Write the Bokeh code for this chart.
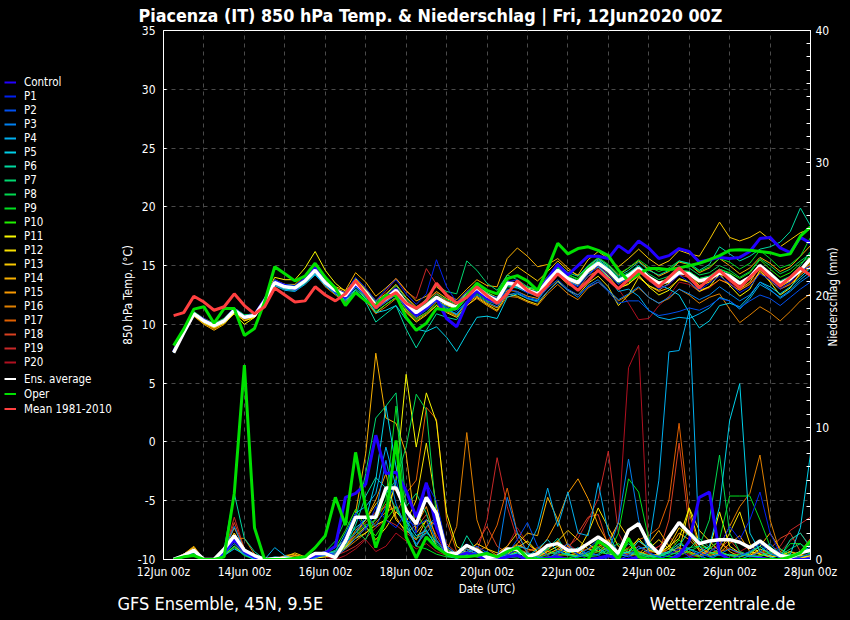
import math
from bokeh.plotting import figure
from bokeh.layouts import row
from bokeh.models import Range1d, LinearAxis, FixedTicker, Legend, LegendItem
from bokeh.embed import file_html
from bokeh.resources import INLINE

FONT = "DejaVu Sans Condensed"

# time axis: hours after 12Jun2020 00Z (6-hourly steps)
hours = list(range(6, 385, 6))

tick_hours = [0, 48, 96, 144, 192, 240, 288, 336, 384]
tick_labels = ["12Jun 00z", "14Jun 00z", "16Jun 00z", "18Jun 00z", "20Jun 00z",
               "22Jun 00z", "24Jun 00z", "26Jun 00z", "28Jun 00z"]
grid_hours = [24, 48, 72, 96, 120, 144, 168, 192, 216, 240, 264, 288, 312, 336, 360]
temp_ticks = [-10, -5, 0, 5, 10, 15, 20, 25, 30, 35]
temp_grid = [-5, 0, 5, 10, 15, 20, 25, 30]
precip_ticks = [0, 10, 20, 30, 40]
precip_minor = list(range(0, 41))

footer_texts = ["GFS Ensemble, 45N, 9.5E", "Wetterzentrale.de"]
footer_hours = [33.0, 331.8]
precip_title = "Niederschlag (mm)"
precip_title_at = [16.1]   # where the rotated precipitation title starts (mm)

names = ["Control", "P1", "P2", "P3", "P4", "P5", "P6", "P7", "P8", "P9", "P10",
         "P11", "P12", "P13", "P14", "P15", "P16", "P17", "P18", "P19", "P20"]
colors = ["#2200ff", "#0020f0", "#0050f0", "#0080f0", "#00b0f0", "#00d0e8", "#00d8a0",
          "#00d870", "#00d850", "#00e020", "#20f000", "#f8f800", "#f8e000", "#f8c800",
          "#f8b000", "#f89800", "#e08000", "#e06000", "#d84020", "#c82828", "#b01020"]

# ---------------- 850 hPa temperature (deg C) ----------------
control_t = [7.7, 9.3, 10.9, 10.4, 9.9, 10.3, 11.3, 10.6,
             10.8, 12.1, 13.6, 13.3, 13.0, 13.8, 14.8, 13.6,
             12.8, 12.3, 13.4, 12.6, 11.4, 12.3, 13.0, 11.6,
             10.8, 11.4, 12.2, 10.5, 9.8, 11.8, 12.9, 12.2,
             11.8, 13.6, 13.4, 12.8, 12.7, 13.9, 15.1, 14.2,
             15.0, 15.8, 15.8, 15.6, 16.7, 16.1, 17.1, 16.5,
             15.6, 15.85, 16.45, 16.2, 15.3, 15.5, 15.7, 15.6,
             15.7, 16.2, 17.3, 17.4, 16.5, 16.1, 17.4, 16.9]
p1_t = [7.8, 9.4, 11.0, 10.4, 10.0, 10.4, 11.3, 10.7,
        10.9, 12.2, 13.8, 13.4, 13.3, 14.0, 15.1, 13.7,
        13.0, 12.7, 14.0, 13.1, 12.0, 13.0, 13.8, 12.6,
        11.7, 12.6, 15.5, 13.2, 11.9, 12.8, 13.4, 12.5,
        12.3, 13.6, 13.8, 13.0, 12.5, 13.6, 14.7, 13.6,
        13.2, 14.1, 15.0, 14.2, 13.4, 14.0, 14.8, 13.8,
        13.0, 13.4, 14.2, 13.6, 12.9, 13.5, 14.1, 13.5,
        12.7, 13.2, 14.3, 13.8, 13.0, 13.6, 14.5, 15.0]
p2_t = [7.6, 9.2, 10.8, 10.2, 9.8, 10.2, 11.1, 10.5,
        10.7, 11.9, 13.4, 13.1, 13.0, 13.6, 14.4, 13.4,
        12.7, 12.2, 13.3, 12.4, 11.3, 11.9, 12.5, 11.4,
        10.6, 11.2, 12.0, 11.5, 11.1, 12.0, 12.7, 12.1,
        11.7, 13.0, 12.8, 12.3, 12.1, 13.1, 13.8, 13.0,
        12.5, 13.2, 13.6, 12.8, 11.8, 12.0, 12.0, 11.2,
        10.75, 10.9, 11.1, 11.4, 11.2, 11.6, 12.2, 12.0,
        11.4, 12.0, 12.5, 12.2, 11.6, 12.3, 13.0, 13.6]
p3_t = [7.7, 9.3, 10.9, 10.3, 9.9, 10.3, 11.2, 10.6,
        10.8, 12.0, 13.5, 13.2, 13.0, 13.6, 14.5, 13.5,
        12.8, 12.4, 13.5, 12.6, 11.5, 12.1, 12.8, 11.7,
        10.9, 11.4, 12.0, 11.3, 10.9, 11.9, 12.5, 11.9,
        11.5, 12.5, 12.7, 12.2, 11.9, 12.8, 13.6, 12.9,
        12.3, 13.3, 13.8, 12.9, 12.1, 12.6, 13.2, 12.3,
        11.8, 12.3, 13.0, 12.6, 12.1, 12.5, 13.2, 12.6,
        12.0, 12.5, 13.6, 13.0, 12.2, 12.8, 13.6, 14.2]
p4_t = [7.6, 9.3, 10.9, 10.3, 9.9, 10.4, 11.2, 10.6,
        10.8, 12.0, 13.3, 12.9, 12.8, 13.4, 14.2, 13.3,
        12.6, 12.1, 13.2, 12.4, 11.4, 12.0, 12.7, 11.5,
        10.7, 11.3, 12.1, 11.4, 10.8, 12.0, 12.8, 12.2,
        11.9, 13.3, 13.1, 12.7, 12.4, 13.5, 14.4, 13.7,
        13.3, 14.3, 14.9, 14.0, 12.8, 13.0, 12.4, 11.2,
        10.6, 10.4, 10.6, 10.5, 10.9, 11.4, 12.3, 12.0,
        11.3, 12.2, 13.4, 12.9, 12.3, 12.9, 13.8, 14.5]
p5_t = [7.6, 9.3, 10.9, 10.3, 9.9, 10.3, 11.2, 10.6,
        10.7, 11.9, 13.4, 13.0, 12.9, 13.5, 14.3, 13.3,
        12.6, 12.0, 13.0, 12.2, 11.0, 11.2, 11.6, 10.4,
        9.6, 9.4, 9.8, 8.9, 7.7, 9.2, 10.6, 10.7,
        10.5, 12.3, 12.6, 12.2, 12.0, 13.4, 14.5, 13.8,
        13.5, 14.7, 15.5, 14.8, 13.9, 14.3, 15.0, 14.1,
        13.4, 13.0, 12.5, 11.0, 9.7, 10.3, 11.6, 11.8,
        11.5, 12.4, 13.6, 13.2, 12.6, 13.2, 14.0, 14.8]
p6_t = [7.7, 9.4, 11.0, 10.4, 10.0, 10.4, 11.3, 10.7,
        10.9, 12.1, 13.7, 13.3, 13.2, 13.9, 14.8, 13.6,
        12.7, 11.8, 12.9, 11.9, 10.2, 10.9, 11.6, 9.6,
        8.0, 9.5, 10.9, 10.6, 10.4, 11.8, 12.8, 12.3,
        12.0, 13.4, 13.2, 12.9, 12.8, 14.0, 15.2, 14.4,
        14.1, 15.0, 15.6, 15.0, 14.1, 14.6, 15.3, 14.6,
        14.2, 14.6, 15.4, 15.2, 14.6, 15.1, 16.6, 16.0,
        15.4, 15.8, 16.4, 16.6, 17.0, 17.9, 19.9, 18.4]
p7_t = [7.8, 9.4, 11.0, 10.4, 10.0, 10.5, 11.4, 10.8,
        10.9, 12.2, 13.7, 13.4, 13.3, 13.9, 14.7, 13.7,
        13.0, 12.6, 13.7, 12.9, 11.9, 12.5, 13.3, 12.2,
        11.3, 12.2, 13.3, 12.8, 12.6, 15.4, 14.6, 13.5,
        12.9, 14.2, 13.8, 13.2, 12.9, 14.0, 14.8, 14.1,
        13.7, 14.6, 15.1, 14.4, 13.5, 13.9, 14.6, 13.8,
        13.3, 13.6, 14.6, 14.5, 13.9, 14.1, 14.7, 14.3,
        13.6, 14.1, 15.1, 14.4, 13.7, 14.1, 15.0, 16.2]
p8_t = [7.7, 9.3, 10.9, 10.3, 9.9, 10.3, 11.1, 10.5,
        10.7, 11.9, 13.4, 13.1, 13.1, 13.7, 14.6, 13.6,
        12.9, 12.5, 13.6, 12.8, 11.7, 12.3, 13.1, 12.0,
        11.2, 11.8, 12.6, 12.1, 11.7, 12.7, 13.3, 12.7,
        12.2, 13.6, 13.4, 13.0, 12.8, 13.9, 14.8, 14.0,
        13.6, 14.8, 15.4, 14.9, 14.0, 14.4, 15.0, 14.3,
        13.8, 14.1, 14.9, 14.8, 14.2, 14.4, 15.0, 14.6,
        14.0, 14.5, 15.6, 15.0, 14.3, 14.7, 15.4, 16.0]
p9_t = [7.8, 9.5, 11.1, 10.5, 10.1, 10.5, 11.4, 10.8,
        10.9, 12.1, 13.6, 13.2, 13.0, 13.6, 14.5, 13.5,
        12.8, 12.2, 13.2, 12.3, 11.1, 11.7, 12.3, 11.2,
        10.4, 11.0, 11.7, 11.2, 10.9, 11.9, 12.6, 12.0,
        11.7, 13.2, 13.1, 12.8, 12.6, 13.8, 14.9, 14.2,
        13.9, 15.0, 15.7, 15.1, 14.3, 14.8, 15.5, 14.9,
        14.5, 14.8, 15.4, 15.1, 14.5, 14.9, 15.6, 15.3,
        14.7, 15.2, 16.3, 15.6, 14.8, 15.1, 15.8, 17.4]
p10_t = [7.7, 9.4, 11.0, 10.4, 10.0, 10.4, 11.2, 10.6,
         10.8, 12.0, 13.5, 13.1, 12.9, 13.5, 14.4, 13.4,
         12.7, 12.3, 13.5, 12.7, 11.6, 12.2, 12.9, 11.7,
         10.9, 11.5, 12.2, 11.7, 11.3, 12.3, 12.9, 12.3,
         11.9, 13.4, 13.5, 13.2, 13.0, 14.1, 15.0, 14.3,
         13.8, 14.9, 15.4, 14.7, 13.8, 14.3, 14.9, 14.1,
         13.6, 13.9, 14.6, 14.5, 13.9, 14.1, 14.7, 14.4,
         13.9, 14.4, 15.5, 14.7, 14.0, 14.4, 15.2, 15.8]
p11_t = [7.8, 9.4, 10.9, 10.2, 9.8, 10.1, 10.9, 10.0,
         10.6, 12.2, 14.0, 13.8, 13.8, 14.8, 16.2, 14.6,
         13.5, 12.8, 13.9, 12.9, 11.5, 12.0, 12.6, 11.5,
         10.8, 11.3, 12.0, 11.6, 11.3, 12.4, 13.2, 12.7,
         12.3, 13.7, 13.5, 13.1, 12.9, 14.0, 14.9, 14.1,
         13.6, 14.5, 14.9, 14.1, 13.1, 13.4, 14.2, 13.2,
         12.5, 12.9, 13.9, 13.6, 12.8, 13.2, 14.3, 13.3,
         12.4, 13.0, 14.6, 13.6, 12.5, 13.1, 14.4, 15.1]
p12_t = [7.6, 9.2, 10.8, 10.1, 9.7, 10.1, 11.0, 10.3,
         10.6, 11.9, 13.6, 13.2, 13.1, 13.8, 14.9, 13.8,
         13.1, 12.4, 13.3, 12.2, 11.0, 11.7, 12.3, 11.0,
         10.2, 10.8, 11.6, 11.0, 10.6, 11.6, 12.3, 11.7,
         11.2, 12.6, 12.4, 12.0, 11.7, 12.8, 13.7, 12.9,
         12.5, 13.5, 14.1, 13.2, 11.6, 12.5, 14.0, 13.3,
         12.9, 13.5, 14.7, 14.3, 13.3, 13.6, 14.5, 13.8,
         13.0, 13.6, 14.9, 14.0, 13.2, 13.7, 14.7, 15.3]
p13_t = [7.7, 9.3, 10.8, 10.2, 9.8, 10.2, 11.1, 10.5,
         10.7, 12.0, 13.7, 13.3, 13.2, 13.9, 14.9, 13.8,
         13.1, 12.7, 13.8, 13.0, 12.0, 12.6, 13.4, 12.3,
         11.5, 12.0, 12.8, 12.2, 11.8, 12.8, 13.5, 12.9,
         12.6, 14.2, 14.9, 14.3, 13.7, 14.5, 15.4, 14.6,
         14.2, 15.5, 16.2, 15.6, 14.9, 15.6, 16.4, 15.6,
         15.0, 15.4, 16.3, 16.0, 15.8, 17.2, 18.7, 17.4,
         17.1, 17.4, 17.9, 17.2, 16.6, 17.2, 17.8, 18.1]
p14_t = [7.6, 9.2, 10.7, 10.0, 9.5, 10.0, 11.0, 10.3,
         10.6, 11.9, 13.6, 13.4, 13.4, 14.2, 15.2, 14.0,
         13.2, 12.9, 14.4, 13.6, 12.4, 13.1, 13.9, 12.9,
         12.0, 12.4, 13.2, 12.5, 12.1, 13.0, 13.8, 13.3,
         13.2, 15.6, 16.5, 15.8, 14.9, 15.1, 15.6, 14.8,
         14.1, 14.9, 15.6, 15.0, 14.2, 14.8, 15.4, 14.7,
         14.1, 14.5, 15.3, 15.1, 14.4, 14.8, 15.6, 15.0,
         14.3, 14.8, 15.7, 15.2, 14.5, 14.9, 15.8, 16.7]
p15_t = [7.7, 9.3, 10.9, 10.2, 9.7, 10.2, 11.1, 10.5,
         10.7, 12.0, 13.5, 13.2, 13.1, 13.8, 14.7, 13.6,
         12.9, 12.3, 13.3, 12.5, 11.3, 11.9, 12.6, 11.3,
         10.5, 11.0, 11.9, 11.2, 10.8, 11.8, 12.4, 11.8,
         11.4, 12.9, 12.8, 12.4, 12.2, 13.3, 14.2, 13.4,
         13.0, 14.1, 14.6, 13.9, 13.0, 13.5, 14.1, 13.3,
         12.8, 13.1, 13.8, 13.6, 12.9, 13.2, 13.8, 13.4,
         12.9, 13.4, 14.4, 13.7, 13.0, 13.4, 14.2, 14.9]
p16_t = [7.6, 9.2, 10.7, 10.1, 9.6, 10.1, 11.0, 10.4,
         10.6, 11.8, 13.3, 13.0, 12.9, 13.5, 14.3, 13.2,
         12.5, 11.9, 12.9, 12.0, 10.9, 11.5, 12.2, 11.1,
         10.3, 10.9, 11.6, 11.1, 10.7, 11.6, 12.2, 11.6,
         11.1, 12.4, 12.3, 11.9, 11.6, 12.6, 13.4, 12.6,
         12.1, 13.1, 13.6, 12.9, 12.0, 12.5, 13.1, 12.3,
         11.8, 12.2, 13.0, 12.5, 11.8, 12.3, 12.6, 11.3,
         10.15, 10.8, 11.5, 11.0, 10.3, 11.1, 12.0, 12.6]
p17_t = [7.7, 9.3, 10.8, 10.2, 9.7, 10.2, 11.1, 10.5,
         10.7, 12.0, 13.7, 13.4, 13.3, 14.0, 14.9, 13.8,
         13.1, 12.6, 13.7, 12.8, 11.7, 12.3, 13.1, 12.0,
         11.2, 11.8, 12.6, 12.0, 11.6, 12.6, 13.2, 12.6,
         12.1, 13.6, 13.3, 12.9, 12.6, 13.7, 14.6, 13.8,
         13.4, 14.6, 15.2, 14.5, 13.6, 14.1, 14.7, 13.9,
         13.3, 13.6, 14.4, 14.2, 13.5, 13.8, 14.4, 14.0,
         13.4, 13.9, 14.9, 14.2, 13.4, 13.8, 14.5, 15.2]
p18_t = [7.7, 9.4, 11.0, 10.4, 10.0, 10.4, 11.3, 10.7,
         10.9, 12.1, 13.6, 13.3, 13.2, 13.8, 14.7, 13.7,
         13.0, 12.5, 13.6, 12.8, 11.8, 12.4, 13.1, 12.0,
         11.2, 11.7, 12.4, 11.9, 11.5, 12.5, 13.1, 12.5,
         12.1, 13.5, 13.3, 12.9, 12.6, 13.7, 14.6, 13.9,
         13.6, 14.7, 15.3, 14.7, 13.8, 14.3, 14.9, 14.1,
         13.6, 13.9, 14.6, 14.4, 13.8, 14.0, 14.6, 14.2,
         13.6, 14.1, 15.1, 14.4, 13.6, 14.0, 14.7, 15.4]
p19_t = [7.8, 9.4, 11.0, 10.5, 10.1, 10.5, 11.3, 10.7,
         10.9, 12.2, 13.8, 13.4, 13.3, 13.9, 14.8, 13.8,
         13.1, 12.7, 13.8, 13.0, 12.0, 12.8, 13.9, 12.8,
         12.2, 14.75, 13.4, 12.3, 11.8, 12.7, 13.3, 12.6,
         12.1, 13.5, 13.2, 12.8, 12.5, 13.6, 14.5, 13.7,
         13.3, 14.4, 15.0, 14.3, 13.4, 13.9, 14.5, 13.7,
         13.1, 13.4, 14.2, 14.0, 13.3, 13.6, 14.3, 13.9,
         13.3, 13.8, 14.8, 14.1, 13.3, 13.7, 14.4, 15.0]
p20_t = [7.7, 9.3, 10.9, 10.3, 9.9, 10.3, 11.2, 10.6,
         10.8, 12.0, 13.4, 13.0, 12.9, 13.5, 14.4, 13.4,
         12.7, 12.2, 13.3, 12.6, 11.7, 12.5, 13.3, 12.2,
         11.4, 12.0, 12.7, 12.0, 11.6, 12.4, 13.0, 12.4,
         12.0, 13.4, 13.2, 12.8, 12.5, 13.6, 14.4, 13.7,
         13.3, 14.3, 14.8, 14.1, 13.0, 11.8, 10.4, 10.5,
         11.6, 12.4, 13.6, 13.4, 12.8, 13.1, 13.8, 13.5,
         12.9, 13.5, 14.5, 13.9, 13.1, 13.5, 14.3, 14.9]
avg_t = [7.6, 9.3, 10.9, 10.3, 9.9, 10.3, 11.2, 10.6,
         10.75, 12.0, 13.55, 13.2, 13.1, 13.7, 14.6, 13.55,
         12.9, 12.45, 13.55, 12.7, 11.6, 12.2, 12.9, 11.8,
         11.0, 11.6, 12.3, 11.8, 11.45, 12.45, 13.1, 12.45,
         12.0, 13.5, 13.4, 12.9, 12.6, 13.7, 14.6, 13.9,
         13.55, 14.6, 15.2, 14.6, 13.7, 14.15, 14.75, 14.0,
         13.5, 13.7, 14.4, 14.3, 13.7, 13.9, 14.4, 14.1,
         13.5, 14.0, 15.0, 14.3, 13.5, 13.9, 14.6, 15.6]
oper_t = [8.2, 9.6, 11.3, 11.5, 10.1, 11.35, 11.35, 9.05,
          9.65, 11.9, 14.9, 14.3, 13.7, 14.1, 15.2, 14.0,
          13.1, 11.6, 12.7, 12.0, 11.6, 12.45, 12.45, 10.6,
          9.5, 10.1, 11.35, 11.2, 11.35, 12.45, 13.5, 12.9,
          12.6, 13.9, 14.15, 13.7, 12.9, 14.75, 16.9, 16.0,
          16.45, 16.6, 16.3, 15.85, 14.6, 13.7, 14.3, 14.75,
          14.75, 14.65, 14.8, 15.0, 15.2, 15.5, 15.85, 16.3,
          16.35, 16.3, 16.2, 16.1, 15.85, 16.0, 17.5, 18.3]
mean_t = [10.75, 11.0, 12.4, 11.9, 11.2, 11.5, 12.6, 11.6,
          10.9, 11.5, 13.1, 12.5, 11.9, 12.0, 13.2, 12.5,
          12.0, 12.6, 13.7, 12.6, 11.4, 12.2, 12.7, 11.8,
          11.35, 12.0, 13.5, 12.5, 11.8, 12.3, 13.2, 12.45,
          11.8, 12.6, 13.7, 12.9, 12.45, 13.3, 14.3, 13.6,
          12.9, 13.7, 14.6, 13.8, 13.05, 13.8, 14.6, 13.9,
          13.2, 14.0, 14.8, 14.0, 13.1, 13.9, 14.6, 13.8,
          13.1, 14.0, 14.8, 14.0, 13.3, 14.0, 14.8, 14.15]

# ---------------- precipitation (mm / 6h) ----------------
control_p = [0, 0.3, 0.7, 0, 0, 0.6, 1.5, 0.6,
             0.2, 0, 0, 0.1, 0, 0, 0.3, 0.5,
             1.0, 4.7, 5.0, 5.7, 9.4, 6.5, 6.6, 5.2,
             3.2, 5.8, 2.4, 0.45, 0.2, 0.5, 0.3, 0,
             0, 0.2, 0.3, 0, 0, 0.1, 0.2, 0,
             0, 0, 0.1, 0.3, 0, 0, 0.2, 0,
             0, 0, 0.3, 1.4, 4.7, 5.1, 0.45, 0,
             0, 0, 0.1, 0, 0, 0, 0, 0]
p1_p = [0, 0.3, 0.8, 0, 0, 0.5, 1.6, 0.5,
        0.1, 0, 0, 0, 0, 0.1, 0.4, 0.6,
        0.3, 1.8, 3.5, 2.2, 4.0, 3.0, 2.4, 3.6,
        2.0, 5.8, 4.4, 1.0, 0.3, 1.2, 0.4, 0.1,
        0, 0.3, 0.8, 0.3, 0, 0, 0.4, 0.9,
        0.4, 0, 0, 0.2, 0.5, 0.3, 0, 0,
        0, 0.4, 0.8, 0.2, 0, 0.6, 1.0, 2.5,
        1.5, 3.0, 5.1, 2.0, 0.5, 0, 0, 0.2]
p2_p = [0, 0.2, 0.6, 0, 0, 0.4, 1.2, 0.4,
        0.1, 0, 0, 0, 0.1, 0.2, 0.2, 0.3,
        0.5, 1.2, 2.0, 3.3, 2.5, 4.0, 6.0, 3.0,
        2.5, 3.0, 1.5, 0.4, 0.2, 0.6, 1.0, 0.5,
        0.2, 0.4, 1.5, 2.8, 1.0, 0.3, 0, 0,
        0.2, 0.6, 0.3, 0, 0, 0.3, 1.0, 0.5,
        0.2, 0, 0, 0.2, 0.5, 0.2, 0, 0,
        0.3, 0.6, 1.2, 0.5, 0.1, 0, 0.2, 0.4]
p3_p = [0, 0.3, 0.7, 0, 0, 0.7, 2.5, 0.7,
        0.2, 0, 0, 0.2, 0, 0, 0.1, 0.4,
        0.2, 0.8, 1.6, 2.4, 3.5, 7.5, 4.2, 2.4,
        1.2, 2.0, 3.0, 0.6, 0.2, 0.8, 0.4, 0.6,
        0, 4.7, 2.0, 0.5, 0.2, 0, 0.6, 1.2,
        0.3, 0.8, 1.5, 0.6, 2.8, 7.6, 3.0, 0.5,
        0.2, 0, 0.5, 0.8, 0.3, 0, 0.4, 0.8,
        0.5, 0.2, 0.6, 1.2, 0.4, 0, 0, 0]
p4_p = [0, 0.3, 0.6, 0, 0, 0.3, 0.8, 0.4,
        0, 0, 0.9, 0.3, 0, 0.1, 0.3, 0.4,
        0.6, 2.0, 3.5, 4.0, 5.0, 8.5, 5.5, 3.0,
        1.0, 2.5, 3.2, 1.0, 0.4, 0.3, 0.6, 0.2,
        0, 0.5, 1.0, 0.8, 2.4, 5.4, 2.5, 5.1,
        2.0, 1.8, 5.8, 2.0, 0.4, 0.2, 0.8, 1.0,
        6.0, 15.7, 15.8, 18.8, 1.0, 0.2, 0.4, 0,
        0, 0.3, 0.2, 0, 0, 0, 0.4, 1.0]
p5_p = [0, 0.3, 0.7, 0, 0, 0.4, 1.4, 0.6,
        0.3, 0, 0.2, 0.1, 0, 0, 0.2, 0.5,
        0.4, 1.5, 2.4, 3.0, 6.0, 11.6, 7.0, 3.0,
        1.8, 2.2, 1.0, 0.3, 0.1, 0.5, 0.8, 0.3,
        0.1, 0.3, 0.5, 0.2, 0.8, 1.5, 0.6, 0.4,
        0.9, 0.3, 0.4, 1.0, 0.6, 0.5, 1.4, 0.9,
        0.4, 0.6, 1.2, 0.8, 0.5, 1.0, 4.0, 10.5,
        13.3, 2.0, 0.6, 0.2, 0, 0.4, 2.4, 8.0]
p6_p = [0, 0.2, 0.6, 0, 0, 0.8, 5.0, 1.6,
        0.6, 0, 0, 0.2, 0.1, 0, 0.2, 0.3,
        0.3, 1.0, 2.6, 4.8, 6.2, 5.4, 3.8, 2.5,
        1.6, 2.0, 1.4, 0.4, 0.2, 1.8, 0.6, 0.2,
        0.1, 0.3, 0.8, 0.4, 0.2, 0.8, 1.6, 0.4,
        0.2, 0.6, 0.9, 0.3, 0.4, 1.2, 0.5, 0.3,
        0.2, 0.5, 1.0, 2.2, 1.4, 0.6, 0.3, 0.4,
        0.2, 0.5, 1.0, 0.4, 0.2, 1.5, 2.0, 0.9]
p7_p = [0, 0.2, 0.5, 0, 0, 0.5, 1.8, 0.4,
        0.1, 0, 0, 0, 0, 0.2, 0.3, 0.4,
        0.7, 1.6, 3.0, 6.5, 10.7, 11.6, 12.6, 4.0,
        5.0, 3.5, 1.2, 0.3, 0.1, 0.3, 0.6, 0.2,
        0.3, 0.2, 0.5, 0.2, 0.1, 0.4, 0.6, 0.3,
        0.2, 0.4, 0.8, 0.5, 0.3, 0.6, 0.4, 0.2,
        0.3, 0.5, 0.4, 0.8, 1.6, 0.9, 0.5, 0.3,
        0.2, 0.6, 1.0, 0.4, 0.3, 0.8, 1.2, 0.6]
p8_p = [0, 0.2, 0.6, 0, 0, 0.4, 1.0, 0.3,
        0.1, 0, 0, 0.1, 0, 0, 0.2, 0.6,
        1.4, 3.0, 2.2, 1.5, 3.2, 5.0, 6.0, 8.5,
        12.5, 11.3, 3.2, 0.8, 0.3, 0.4, 0.2, 0.1,
        0, 0.1, 0.3, 0.5, 0.2, 0.1, 0.5, 0.8,
        0.4, 0.2, 0.3, 0.8, 1.2, 0.5, 0.3, 0.2,
        0.1, 0.3, 0.6, 0.9, 1.0, 3.0, 7.9, 2.0,
        0.6, 0.3, 0.2, 0.5, 0.8, 0.4, 0.2, 0.5]
p9_p = [0, 0.2, 0.5, 0, 0, 0.3, 0.9, 0.3,
        0, 0, 0, 0, 0.1, 0.2, 0.4, 0.3,
        0.6, 1.4, 2.0, 2.6, 3.0, 4.5, 11.6, 2.6,
        1.0, 0.8, 0.4, 0.2, 0.1, 0.2, 0.4, 0.3,
        0.1, 0.2, 0.1, 0.3, 0.5, 0.8, 0.2, 0.1,
        0.3, 0.5, 0.6, 0.4, 2.0, 6.1, 5.1, 1.5,
        0.4, 0.2, 0.3, 0.6, 1.0, 0.8, 1.5, 4.8,
        4.8, 4.8, 3.0, 1.0, 0.3, 1.2, 1.2, 0.4]
p10_p = [0, 0.2, 0.4, 0, 0, 0.4, 1.2, 0.5,
         0.1, 0, 0, 0, 0, 0.1, 0.2, 0.5,
         0.9, 2.2, 3.8, 2.4, 1.8, 3.0, 4.0, 2.4,
         3.6, 2.2, 1.0, 0.3, 0.2, 0.6, 0.3, 0.1,
         0, 0.2, 0.6, 0.3, 0.1, 0.2, 0.3, 0.4,
         0.2, 0.3, 1.0, 0.6, 0.4, 0.8, 0.5, 0.3,
         0.2, 0.6, 1.5, 0.5, 0.2, 0.4, 0.6, 0.3,
         0.4, 0.2, 0.3, 0.6, 0.5, 0.3, 0.6, 1.4]
p11_p = [0, 0.3, 0.7, 0, 0, 0.3, 1.0, 0.4,
         0.1, 0, 0, 0.2, 0.1, 0, 0.1, 0.2,
         0.4, 0.9, 1.6, 2.0, 2.6, 3.0, 6.0, 14.0,
         8.5, 12.6, 10.4, 3.5, 1.0, 0.5, 0.3, 0.2,
         0.1, 0.3, 0.6, 0.4, 0.2, 0.6, 1.0, 0.4,
         0.3, 1.2, 0.6, 0.4, 0.3, 0.6, 1.6, 0.7,
         0.5, 1.0, 1.6, 3.9, 1.2, 0.8, 3.6, 1.0,
         0.5, 0.3, 0.8, 0.5, 0.2, 0.4, 0.3, 0.2]
p12_p = [0, 0.3, 0.8, 0, 0, 0.6, 2.0, 0.6,
         0.2, 0, 0, 0, 0, 0, 0.2, 0.4,
         0.5, 1.0, 1.8, 2.5, 1.5, 2.4, 3.6, 2.8,
         4.5, 8.8, 4.0, 1.0, 0.4, 0.3, 0.2, 0,
         0.1, 0.4, 0.9, 1.4, 0.6, 0.4, 0.8, 0.5,
         0.6, 2.0, 3.9, 2.4, 1.0, 0.5, 0.3, 0.8,
         1.5, 0.8, 0.6, 3.9, 2.2, 1.4, 0.6, 2.0,
         3.6, 1.2, 0.4, 0.2, 0.3, 0.6, 0.2, 0.1]
p13_p = [0, 0.4, 0.9, 0, 0, 0.5, 1.4, 0.6,
         0.2, 0, 0, 0.2, 0.5, 0.2, 0.1, 0.3,
         0.4, 1.2, 2.0, 3.0, 4.2, 5.0, 3.0, 2.2,
         1.5, 3.0, 2.6, 0.8, 0.4, 0.6, 1.2, 0.8,
         0.5, 1.0, 2.0, 1.2, 0.6, 0.8, 1.4, 2.2,
         1.5, 0.8, 0.6, 1.2, 2.8, 1.6, 0.6, 0.3,
         0.4, 1.0, 2.4, 1.8, 0.8, 0.5, 0.6, 0.3,
         0.2, 0.6, 0.4, 0.3, 0.6, 0.2, 0.1, 0.3]
p14_p = [0, 0.4, 1.0, 0, 0, 0.7, 2.4, 0.8,
         0.3, 0, 0, 0.1, 0.3, 0.2, 0.4, 0.6,
         0.9, 1.5, 3.5, 8.0, 15.6, 10.7, 10.3, 8.0,
         2.0, 3.0, 1.0, 0.3, 0.2, 0.8, 0.4, 0.2,
         0.3, 0.6, 1.2, 2.0, 1.8, 4.7, 3.0, 1.0,
         0.5, 0.4, 0.9, 1.5, 0.6, 0.3, 0.4, 1.2,
         2.2, 1.0, 0.4, 0.6, 0.3, 0.8, 1.4, 0.6,
         0.2, 0.4, 1.0, 2.0, 0.8, 0.2, 0.3, 0.1]
p15_p = [0, 0.4, 0.9, 0, 0, 0.6, 1.8, 0.6,
         0.2, 0, 0, 0.3, 0.4, 0.1, 0.3, 0.5,
         0.6, 1.0, 2.2, 3.0, 4.5, 6.5, 3.2, 2.0,
         2.6, 4.0, 1.5, 0.5, 0.3, 0.6, 0.9, 0.3,
         0.1, 0.6, 1.1, 0.8, 0.6, 1.6, 3.0, 5.0,
         6.1, 4.6, 2.6, 1.2, 0.6, 0.5, 1.4, 0.8,
         0.4, 0.8, 2.0, 1.5, 0.7, 0.3, 0.5, 1.2,
         1.8, 0.6, 0.4, 0.2, 0.3, 0.6, 0.4, 0.2]
p16_p = [0, 0.4, 0.8, 0, 0, 0.5, 1.6, 1.6,
         0.4, 0, 0, 0.2, 0.3, 0.1, 0.2, 0.4,
         0.3, 0.8, 1.4, 2.0, 2.8, 3.6, 4.0, 2.6,
         1.0, 2.2, 1.0, 0.6, 2.5, 9.6, 3.0, 0.8,
         0.3, 0.5, 0.8, 0.5, 0.3, 0.7, 1.4, 0.6,
         0.4, 0.3, 0.6, 0.9, 0.4, 0.3, 0.5, 0.4,
         0.3, 0.6, 0.9, 0.5, 0.3, 0.6, 1.0, 2.5,
         4.0, 5.0, 7.9, 3.0, 0.5, 0.2, 0.1, 0.3]
p17_p = [0, 0.4, 0.8, 0, 0, 0.6, 2.0, 0.7,
         0.2, 0, 0, 0.1, 0.2, 0.1, 0.3, 0.3,
         0.4, 0.9, 1.6, 2.4, 3.0, 4.2, 3.5, 5.0,
         6.0, 11.5, 10.6, 3.0, 0.6, 0.4, 0.6, 1.0,
         2.6, 5.4, 2.0, 0.5, 0.3, 0.6, 0.4, 0.3,
         0.5, 0.8, 1.2, 0.6, 0.4, 0.9, 1.5, 1.8,
         2.4, 4.5, 10.3, 3.5, 1.0, 0.5, 0.6, 0.8,
         0.5, 0.3, 0.6, 0.4, 0.2, 0.3, 0.2, 0.4]
p18_p = [0, 0.4, 0.9, 0, 0, 0.5, 2.8, 0.8,
         0.3, 0, 0, 0, 0.1, 0.2, 0.4, 0.5,
         0.4, 1.0, 2.0, 2.8, 3.6, 4.0, 5.5, 4.0,
         2.4, 3.4, 1.8, 0.5, 0.3, 0.4, 1.2, 2.5,
         1.0, 0.5, 0.3, 0.6, 0.9, 0.6, 0.4, 0.8,
         2.0, 3.2, 3.4, 1.0, 0.6, 0.4, 1.0, 0.6,
         0.5, 3.0, 8.8, 2.5, 0.6, 0.4, 0.8, 1.5,
         0.6, 0.3, 0.5, 0.8, 1.6, 2.0, 0.6, 1.6]
p19_p = [0, 0.3, 0.7, 0, 0, 0.4, 3.2, 0.8,
         0.2, 0, 0, 0, 0, 0.1, 0.2, 0.3,
         0.3, 0.6, 1.0, 1.6, 2.4, 3.0, 2.6, 2.0,
         1.5, 2.4, 3.0, 1.2, 0.5, 0.3, 0.6, 3.0,
         7.7, 4.0, 1.5, 0.5, 0.2, 0.4, 0.6, 1.0,
         1.6, 3.0, 4.6, 8.2, 2.0, 0.5, 0.3, 0.6,
         1.0, 1.8, 0.8, 0.4, 0.3, 0.6, 1.2, 0.8,
         0.4, 0.3, 0.2, 0.6, 1.0, 2.2, 2.7, 3.2]
p20_p = [0, 0.2, 0.5, 0, 0, 0.3, 1.0, 0.4,
         0.1, 0, 0, 0, 0, 0, 0.1, 0.2,
         0, 0.3, 0.8, 1.5, 0.6, 1.0, 2.0, 1.4,
         0.8, 1.2, 0.6, 0.3, 0.2, 0.4, 0.3, 0.2,
         0.4, 1.0, 2.4, 1.2, 0.5, 0.3, 0.8, 1.2,
         0.6, 0.8, 1.0, 1.5, 2.7, 14.5, 16.2, 0.4,
         1.0, 0.4, 0.6, 0.3, 0.2, 0.5, 0.4, 0.3,
         0.6, 1.0, 0.5, 0.3, 0.6, 1.4, 2.0, 1.0]
avg_p = [0, 0.3, 0.7, 0, 0, 0.8, 1.8, 0.7,
         0.3, 0, 0.05, 0.1, 0.05, 0.05, 0.45, 0.45,
         0.15, 1.4, 3.2, 3.2, 3.2, 5.4, 5.4, 3.7,
         2.7, 4.7, 3.5, 0.5, 0.45, 1.06, 0.7, 0.15,
         0.2, 0.8, 0.75, 0.2, 0.45, 1.06, 1.2, 0.7,
         0.7, 1.2, 1.7, 1.2, 0.45, 2.2, 2.7, 1.2,
         0.45, 1.7, 2.8, 2.0, 1.2, 1.4, 1.5, 1.5,
         1.3, 0.9, 1.4, 0.8, 0.3, 0.15, 0.5, 0.7]
oper_p = [0, 0.2, 0.3, 0, 0, 0.2, 5.0, 14.7,
          2.4, 0, 0, 0, 0.1, 0.2, 0.9, 1.8,
          4.7, 2.6, 8.1, 3.9, 0.9, 3.2, 9.0, 1.7,
          0.1, 1.7, 0.9, 0.4, 0.2, 0.2, 0.3, 0.45,
          0.2, 0.6, 0.9, 0.1, 0, 0, 0, 0,
          0, 0, 1.4, 0.9, 0, 1.6, 0.2, 0,
          0, 0, 0, 0, 0, 0, 0, 0,
          0, 0, 0, 0, 0, 0.2, 0.5, 1.4]

member_t = [control_t, p1_t, p2_t, p3_t, p4_t, p5_t, p6_t, p7_t, p8_t, p9_t, p10_t,
            p11_t, p12_t, p13_t, p14_t, p15_t, p16_t, p17_t, p18_t, p19_t, p20_t]
member_p = [control_p, p1_p, p2_p, p3_p, p4_p, p5_p, p6_p, p7_p, p8_p, p9_p, p10_p,
            p11_p, p12_p, p13_p, p14_p, p15_p, p16_p, p17_p, p18_p, p19_p, p20_p]

OPER_COLOR = "#00e000"
MEAN_COLOR = "#ff4040"

# ======================= main chart =======================
p = figure(width=733, height=620, x_range=Range1d(0, 384), y_range=Range1d(-10, 35),
           output_backend="svg", toolbar_location=None,
           min_border_left=46, min_border_right=40, min_border_top=30, min_border_bottom=61,
           background_fill_color="black", border_fill_color="black",
           outline_line_color="white", outline_line_width=1)
p.extra_y_ranges = {"precip": Range1d(0, 40)}

p.title.text = "Piacenza  (IT)  850 hPa Temp. & Niederschlag | Fri, 12Jun2020 00Z"
p.title.text_color = "white"
p.title.text_font = FONT
p.title.text_font_size = "17.8px"
p.title.text_font_style = "bold"
p.title.align = "left"
p.title.offset = -25
p.title.standoff = 6
p.title.vertical_align = "top"

# x axis
p.xaxis.ticker = FixedTicker(ticks=tick_hours)
p.xaxis.major_label_overrides = {h: lab for h, lab in zip(tick_hours, tick_labels)}
p.xaxis.axis_label = "Date (UTC)"
for ax in [p.xaxis[0], p.yaxis[0]]:
    ax.axis_line_color = "white"
    ax.major_label_text_color = "white"
    ax.major_label_text_font = FONT
    ax.major_label_text_font_size = "12px"
    ax.axis_label_text_color = "white"
    ax.axis_label_text_font = FONT
    ax.axis_label_text_font_size = "11.5px"
    ax.axis_label_text_font_style = "normal"
    ax.minor_tick_line_color = None
    ax.minor_tick_in = 0
    ax.minor_tick_out = 0
    ax.major_tick_out = 0
p.xaxis.major_tick_line_color = None
p.xaxis.major_tick_in = 0
p.xaxis.major_label_standoff = 5
p.xaxis.axis_label_standoff = 0

p.yaxis.ticker = FixedTicker(ticks=temp_ticks)
p.yaxis.major_label_overrides = {t: str(t) for t in temp_ticks}
p.yaxis.axis_label = "850 hPa Temp. (°C)"
p.yaxis.major_tick_in = 3
p.yaxis.major_tick_line_color = "white"
p.yaxis.major_label_standoff = 8
p.yaxis.axis_label_standoff = 0

# footer line (source / location), placed below the date axis
fax = LinearAxis(ticker=FixedTicker(ticks=footer_hours),
                 major_label_overrides={h: t for h, t in zip(footer_hours, footer_texts)})
fax.axis_line_color = None
fax.major_tick_line_color = None
fax.minor_tick_line_color = None
fax.major_tick_in = 0
fax.major_tick_out = 0
fax.minor_tick_in = 0
fax.minor_tick_out = 0
fax.major_label_text_color = "white"
fax.major_label_text_font = FONT
fax.major_label_text_font_size = "18px"
fax.major_label_standoff = -6
p.add_layout(fax, "below")

# grids
p.xgrid.ticker = FixedTicker(ticks=grid_hours)
p.ygrid.ticker = FixedTicker(ticks=temp_grid)
for g in [p.xgrid[0], p.ygrid[0]]:
    g.grid_line_color = "#4a4a4a"
    g.grid_line_dash = "4 4"
    g.grid_line_width = 1

# right precipitation axis
rax = LinearAxis(y_range_name="precip",
                 ticker=FixedTicker(ticks=precip_ticks, minor_ticks=precip_minor))
rax.axis_line_color = "white"
rax.major_tick_in = 4
rax.major_tick_out = 0
rax.minor_tick_in = 4
rax.minor_tick_out = 0
rax.major_tick_line_color = "white"
rax.minor_tick_line_color = "white"
rax.major_label_text_color = "white"
rax.major_label_text_font = FONT
rax.major_label_text_font_size = "12px"
rax.major_label_standoff = 5
p.add_layout(rax, "right")

# precipitation axis title, written bottom-to-top
rlab = LinearAxis(y_range_name="precip", ticker=FixedTicker(ticks=precip_title_at),
                  major_label_overrides={precip_title_at[0]: precip_title})
rlab.axis_line_color = None
rlab.major_tick_line_color = None
rlab.minor_tick_line_color = None
rlab.major_tick_in = 0
rlab.major_tick_out = 0
rlab.minor_tick_in = 0
rlab.minor_tick_out = 0
rlab.major_label_orientation = math.pi / 2
rlab.major_label_text_color = "white"
rlab.major_label_text_font = FONT
rlab.major_label_text_font_size = "11.5px"
rlab.major_label_standoff = 1
p.add_layout(rlab, "right")

# ensemble member lines (thin), then thick lines
for i in range(len(names) - 1, 0, -1):
    p.line(hours, member_t[i], line_color=colors[i], line_width=1)
    p.line(hours, member_p[i], line_color=colors[i], line_width=1, y_range_name="precip")

p.line(hours, control_t, line_color=colors[0], line_width=3)
p.line(hours, control_p, line_color=colors[0], line_width=3, y_range_name="precip")
p.line(hours, avg_t, line_color="white", line_width=3.5)
p.line(hours, avg_p, line_color="white", line_width=3.5, y_range_name="precip")
p.line(hours, oper_t, line_color=OPER_COLOR, line_width=3)
p.line(hours, oper_p, line_color=OPER_COLOR, line_width=3, y_range_name="precip")
p.line(hours, mean_t, line_color=MEAN_COLOR, line_width=3)

# ======================= legend column =======================
lg = figure(width=117, height=620, x_range=Range1d(0, 1), y_range=Range1d(0, 1),
            output_backend="svg", toolbar_location=None, title=None,
            x_axis_location=None, y_axis_location=None,
            min_border_left=0, min_border_right=0, min_border_top=0, min_border_bottom=0,
            background_fill_color="black", border_fill_color="black")
lg.outline_line_color = None
lg.grid.visible = False

leg_style = dict(orientation="vertical", background_fill_alpha=0, border_line_alpha=0,
                 label_text_color="white", label_text_font=FONT,
                 label_text_font_size="11.5px", glyph_width=12, label_width=60,
                 label_standoff=8, spacing=0, padding=0, margin=0)

# legend key lines carry the real series (they lie outside this panel's view)
items_a = []
for nm, c, t in zip(names, colors, member_t):
    r = lg.line(hours, t, line_color=c, line_width=2)
    items_a.append(LegendItem(label=nm, renderers=[r]))
leg_a = Legend(items=items_a, location=(4, 190), glyph_height=14, label_height=14, **leg_style)
lg.add_layout(leg_a, "center")

items_b = []
for nm, c, t in zip(["Ens. average", "Oper", "Mean 1981-2010"],
                    ["white", OPER_COLOR, MEAN_COLOR], [avg_t, oper_t, mean_t]):
    r = lg.line(hours, t, line_color=c, line_width=2)
    items_b.append(LegendItem(label=nm, renderers=[r]))
leg_b = Legend(items=items_b, location=(4, 143), glyph_height=15, label_height=15, **leg_style)
lg.add_layout(leg_b, "center")

layout = row(lg, p, spacing=0, styles={"background-color": "black"})
open("out.html", "w").write(file_html(layout, INLINE))
